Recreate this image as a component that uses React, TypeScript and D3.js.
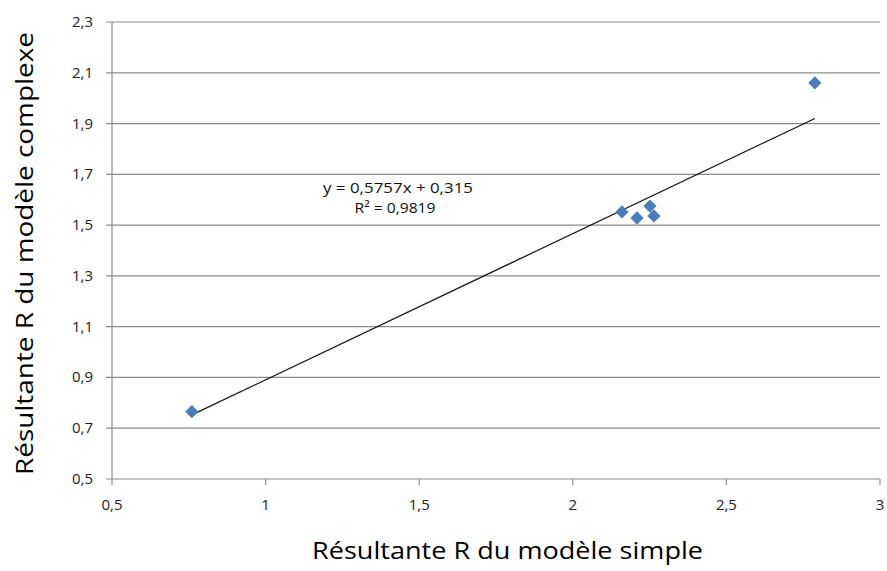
import React from "react";
import * as d3 from "d3";

const xValues = [0.76, 2.16, 2.209, 2.251, 2.264, 2.788];
const yValues = [0.765, 1.552, 1.528, 1.575, 1.536, 2.06];
const xTicks = [0.5, 1, 1.5, 2, 2.5, 3];
const yTicks = [0.5, 0.7, 0.9, 1.1, 1.3, 1.5, 1.7, 1.9, 2.1, 2.3];
const slope = 0.5757;
const intercept = 0.315;
const equationLabel = "y = 0,5757x + 0,315";
const r2Label = "R² = 0,9819";
const xTitle = "Résultante R du modèle simple";
const yTitle = "Résultante R du modèle complexe";

const W = 887;
const H = 571;
const FONT = "'Open Sans', Lato, sans-serif";
const fmt = (v: number) => String(Math.round(v * 10) / 10).replace(".", ",");

export default function App() {
  const x = d3.scaleLinear().domain([0.5, 3]).range([112, 880]);
  const y = d3.scaleLinear().domain([0.5, 2.3]).range([479, 22]);
  const xMin = d3.min(xValues) as number;
  const xMax = d3.max(xValues) as number;
  const trend = d3.line<number>()
    .x((d) => x(d))
    .y((d) => y(slope * d + intercept));
  const diamond = d3.symbol().type(d3.symbolSquare).size(88)();
  const grid = "#8c8c8c";
  return (
    <svg width={W} height={H} style={{ position: "absolute", left: 0, top: 0, background: "#fff" }}>
      <rect width={W} height={H} fill="#fff" />
      {yTicks.map((t) => (
        <g key={"y" + t}>
          <line x1={106} x2={880} y1={y(t)} y2={y(t)} stroke={grid} strokeWidth={1.2} />
          <text x={93} y={y(t) + 5} textAnchor="end" fontFamily={FONT} fontSize={15} fill="#222">
            {fmt(t)}
          </text>
        </g>
      ))}
      <line x1={x(0.5)} x2={x(0.5)} y1={y(2.3)} y2={y(0.5)} stroke={grid} strokeWidth={1.2} />
      {xTicks.map((t) => (
        <g key={"x" + t}>
          <line x1={x(t)} x2={x(t)} y1={y(0.5)} y2={y(0.5) + 6} stroke={grid} strokeWidth={1.2} />
          <text x={x(t)} y={510} textAnchor="middle" fontFamily={FONT} fontSize={15} fill="#222">
            {fmt(t)}
          </text>
        </g>
      ))}
      <path d={trend([xMin, xMax]) || ""} stroke="#111" strokeWidth={1.2} fill="none" />
      {xValues.map((v, i) => (
        <path
          key={"p" + i}
          d={diamond || ""}
          transform={`translate(${x(v)},${y(yValues[i])}) rotate(45)`}
          fill="#4a7ebb"
        />
      ))}
      <text x={398} y={193} textAnchor="middle" fontFamily={FONT} fontSize={14.5} fill="#111" textLength={150} lengthAdjust="spacingAndGlyphs">
        {equationLabel}
      </text>
      <text x={395} y={213} textAnchor="middle" fontFamily={FONT} fontSize={14.5} fill="#111" textLength={81} lengthAdjust="spacingAndGlyphs">
        {r2Label}
      </text>
      <text x={507.5} y={559} textAnchor="middle" fontFamily={FONT} fontSize={23} fill="#000" textLength={391} lengthAdjust="spacingAndGlyphs">
        {xTitle}
      </text>
      <text
        transform={`translate(33,253.5) rotate(-90)`}
        textAnchor="middle"
        fontFamily={FONT}
        fontSize={23}
        fill="#000"
        textLength={443}
        lengthAdjust="spacingAndGlyphs"
      >
        {yTitle}
      </text>
    </svg>
  );
}
